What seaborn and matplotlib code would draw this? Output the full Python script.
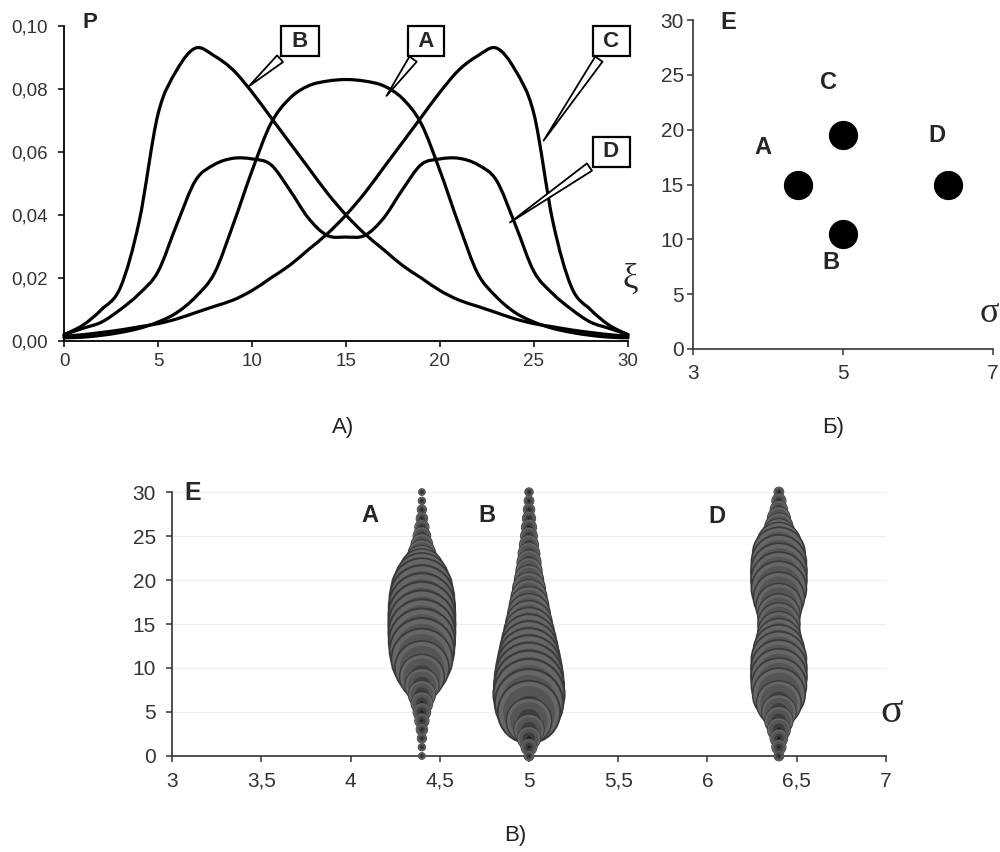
import numpy as np
import pandas as pd
import matplotlib
matplotlib.use("Agg")
import matplotlib.pyplot as plt
from matplotlib.path import Path
from matplotlib.patches import PathPatch
import seaborn as sns

# ---------------- data ----------------
xi = list(range(31))
P_A = [0.001, 0.0012, 0.0018, 0.0027, 0.004, 0.006, 0.009, 0.014, 0.0215, 0.037, 0.054,
       0.069, 0.077, 0.081, 0.0825, 0.083, 0.0825, 0.081, 0.077, 0.069, 0.054,
       0.037, 0.0215, 0.014, 0.009, 0.006, 0.004, 0.0027, 0.0018, 0.0012, 0.001]
P_B = [0.002, 0.005, 0.010, 0.017, 0.038, 0.072, 0.086, 0.093, 0.0905, 0.086, 0.079,
       0.071, 0.063, 0.055, 0.047, 0.040, 0.034, 0.029, 0.024, 0.020, 0.016,
       0.013, 0.011, 0.009, 0.007, 0.0055, 0.0045, 0.0035, 0.0027, 0.002, 0.0015]
P_C = [0.0015, 0.002, 0.0027, 0.0035, 0.0045, 0.0055, 0.007, 0.009, 0.011, 0.013, 0.016,
       0.020, 0.024, 0.029, 0.034, 0.040, 0.047, 0.055, 0.063, 0.071, 0.079,
       0.086, 0.0905, 0.093, 0.086, 0.072, 0.038, 0.017, 0.010, 0.005, 0.002]
P_D = [0.002, 0.004, 0.006, 0.010, 0.015, 0.022, 0.037, 0.051, 0.056, 0.058, 0.0578,
       0.056, 0.048, 0.039, 0.0335, 0.033, 0.0335, 0.039, 0.048, 0.056, 0.0578,
       0.058, 0.056, 0.051, 0.037, 0.022, 0.015, 0.010, 0.006, 0.004, 0.002]

curve_names = ["A", "B", "C", "D"]
pt_sigma = [4.4, 5.0, 5.0, 6.4]
pt_E = [15.0, 10.5, 19.5, 15.0]

bubble_names = ["A", "B", "D"]
bubble_sigma = [4.4, 5.0, 6.4]

xticksA = [0, 5, 10, 15, 20, 25, 30]
yticksA = [0.0, 0.02, 0.04, 0.06, 0.08, 0.10]
yticklabelsA = ["0,00", "0,02", "0,04", "0,06", "0,08", "0,10"]
xticksB = [3, 5, 7]
yticksE = [0, 5, 10, 15, 20, 25, 30]
xticksC = [3, 3.5, 4, 4.5, 5, 5.5, 6, 6.5, 7]
xticklabelsC = ["3", "3,5", "4", "4,5", "5", "5,5", "6", "6,5", "7"]

# ---------------- style ----------------
sns.set_style("white")
plt.rcParams['font.family'] = ['Liberation Sans', 'DejaVu Sans']
SERIF = ["Liberation Serif", "DejaVu Serif"]

fig = plt.figure(figsize=(10, 8.52), dpi=100)
axA = fig.add_axes([0.064, 0.5998, 0.564, 0.3697])
axB = fig.add_axes([0.693, 0.5904, 0.300, 0.3861])
axC = fig.add_axes([0.172, 0.1127, 0.714, 0.3098])

tick_col = "#333333"


def smooth_line(ax, line, lw):
    """Render a seaborn line as a smoothed (Excel-like) Bezier path through its points."""
    x, y = line.get_data()
    x = np.asarray(x, float)
    y = np.asarray(y, float)
    p = np.column_stack([x, y])
    n = len(p)
    verts = [p[0]]
    codes = [Path.MOVETO]
    for i in range(n - 1):
        p0 = p[i - 1] if i > 0 else p[i]
        p1, p2 = p[i], p[i + 1]
        p3 = p[i + 2] if i + 2 < n else p[i + 1]
        c1 = p1 + (p2 - p0) / 6.0
        c2 = p2 - (p3 - p1) / 6.0
        verts += [c1, c2, p2]
        codes += [Path.CURVE4] * 3
    patch = PathPatch(Path(verts, codes), fc="none", ec=line.get_color(), lw=lw,
                      transform=ax.transData, clip_on=False, capstyle="round",
                      joinstyle="round", zorder=2)
    ax.add_patch(patch)
    line.remove()


# ---------------- panel A ----------------
series = {"A": P_A, "B": P_B, "C": P_C, "D": P_D}
dfA = pd.DataFrame([(n, x, p) for n in curve_names for x, p in zip(xi, series[n])],
                   columns=["curve", "xi", "P"])
sns.lineplot(data=dfA, x="xi", y="P", hue="curve", palette={n: "black" for n in curve_names},
             estimator=None, legend=False, lw=2.3, ax=axA)
for ln in list(axA.lines):
    smooth_line(axA, ln, 2.3)
axA.set_xlim(0, 30)
axA.set_ylim(0, 0.10)
axA.set_xticks(xticksA)
axA.set_yticks(yticksA, labels=yticklabelsA)
axA.set_xlabel("")
axA.set_ylabel("")
for s in ["top", "right"]:
    axA.spines[s].set_visible(False)
for s in ["left", "bottom"]:
    axA.spines[s].set_color("black")
    axA.spines[s].set_linewidth(1.3)
axA.tick_params(axis="both", bottom=True, left=True, direction="out", length=4.5, width=1.1,
                color="black", labelsize=13.5, labelcolor=tick_col)
axA.tick_params(axis="y", pad=7)
axA.tick_params(axis="x", pad=4)
axA.text(1.38, 0.1010, "P", fontsize=16, fontweight="bold", ha="center", va="center", clip_on=False)
axA.text(30.1, 0.0194, "ξ", fontsize=25, family=SERIF, ha="center", va="center", clip_on=False)

callouts = [("B", (9.73, 0.0803), (12.55, 0.0952)),
            ("A", (17.07, 0.0771), (19.26, 0.0952)),
            ("C", (25.43, 0.0629), (29.1, 0.0952)),
            ("D", (23.6, 0.0371), (29.1, 0.0600))]
for lab, xy, xyt in callouts:
    axA.annotate(" " + lab + " ", xy=xy, xytext=xyt, fontsize=16, fontweight="bold",
                 ha="center", va="center", annotation_clip=False, zorder=4,
                 bbox=dict(boxstyle="square,pad=0.2", fc="white", ec="black", lw=1.6),
                 arrowprops=dict(arrowstyle="wedge,tail_width=0.4,shrink_factor=0.5",
                                 fc="white", ec="black", lw=1.3))

# ---------------- panel Б ----------------
dfB = pd.DataFrame({"sigma": pt_sigma, "E": pt_E, "name": curve_names})
sns.scatterplot(data=dfB, x="sigma", y="E", s=380, color="black", edgecolor="black",
                legend=False, ax=axB)
axB.set_xlim(3, 7)
axB.set_ylim(0, 30)
axB.set_xticks(xticksB)
axB.set_yticks(yticksE)
axB.set_xlabel("")
axB.set_ylabel("")
for s in ["top", "right"]:
    axB.spines[s].set_visible(False)
for s in ["left", "bottom"]:
    axB.spines[s].set_color(tick_col)
    axB.spines[s].set_linewidth(1.2)
axB.tick_params(axis="both", bottom=True, left=True, direction="out", length=4.5, width=1.1,
                color=tick_col, labelsize=15, labelcolor=tick_col)
axB.tick_params(axis="y", pad=2)
axB.tick_params(axis="x", pad=6)
labpos_B = {"A": (3.93, 18.4), "B": (4.84, 7.9), "C": (4.81, 24.3), "D": (6.25, 19.5)}
for n in curve_names:
    axB.text(*labpos_B[n], n, fontsize=17, fontweight="bold", ha="center", va="center")
axB.text(3.47, 29.8, "E", fontsize=17, fontweight="bold", ha="center", va="center", clip_on=False)
axB.text(6.95, 3.2, "σ", fontsize=26, family=SERIF, ha="center", va="center", clip_on=False)

# ---------------- panel В (bubbles) ----------------
layers = [(1.00, "#3a3a3a"), (0.94, "#666666"), (0.80, "#555555"),
          (0.50, "#3e3e3e"), (0.18, "#1e1e1e")]
pal = {f"L{k}": c for k, (_, c) in enumerate(layers)}
rows = []
for n, sg in zip(bubble_names, bubble_sigma):
    vals = series[n]
    for x in reversed(xi):
        for k, (f, _) in enumerate(layers):
            rows.append((sg, x, vals[x] * f * f, f"L{k}"))
dfC = pd.DataFrame(rows, columns=["sigma", "E", "P", "layer"])
sns.scatterplot(data=dfC, x="sigma", y="E", size="P", sizes=(0, 29860), size_norm=(0, 1),
                hue="layer", palette=pal, legend=False, linewidth=0, edgecolor="none",
                ax=axC, clip_on=False, zorder=3)
axC.set_xlim(3, 7)
axC.set_ylim(0, 30)
axC.set_xticks(xticksC, labels=xticklabelsC)
axC.set_yticks(yticksE)
axC.set_xlabel("")
axC.set_ylabel("")
axC.yaxis.grid(True, color="#eeeeee", lw=0.8)
axC.xaxis.grid(False)
axC.set_axisbelow(True)
for s in ["top", "right"]:
    axC.spines[s].set_visible(False)
for s in ["left", "bottom"]:
    axC.spines[s].set_color(tick_col)
    axC.spines[s].set_linewidth(1.2)
axC.tick_params(axis="both", bottom=True, left=True, direction="out", length=4.5, width=1.1,
                color=tick_col, labelsize=15, labelcolor=tick_col, pad=7)
labpos_C = {"A": (4.11, 27.3), "B": (4.765, 27.3), "D": (6.053, 27.2)}
for n in bubble_names:
    axC.text(*labpos_C[n], n, fontsize=17, fontweight="bold", ha="center", va="center")
axC.text(3.118, 29.9, "E", fontsize=18, fontweight="bold", ha="center", va="center", clip_on=False)
axC.text(7.03, 5.0, "σ", fontsize=30, family=SERIF, ha="center", va="center", clip_on=False)

# ---------------- panel captions ----------------
fig.text(0.343, 0.4988, "А)", fontsize=16, ha="center", va="center", color="#222222")
fig.text(0.833, 0.4988, "Б)", fontsize=16, ha="center", va="center", color="#222222")
fig.text(0.515, 0.0188, "В)", fontsize=16, ha="center", va="center", color="#222222")

fig.savefig("out.png", dpi=100)
